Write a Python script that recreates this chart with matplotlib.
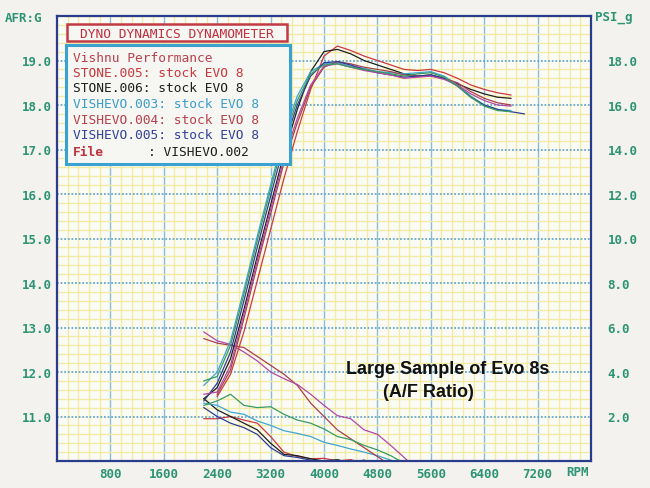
import matplotlib.pyplot as plt
from matplotlib.patches import Rectangle
from matplotlib.ticker import MultipleLocator

# boost (PSI_g, right axis) sampled every 200 rpm
boost_rpm = [2200, 2400, 2600, 2800, 3000, 3200, 3400, 3600, 3800, 4000,
             4200, 4400, 4600, 4800, 5000, 5200, 5400, 5600, 5800, 6000,
             6200, 6400, 6600, 6800, 7000]
psi_stone005 = [None, 2.9, 3.9, 5.8, 8.1, 10.4, 12.7, 14.8, 16.7, 18.2,
                18.65, 18.45, 18.2, 18.0, 17.8, 17.6, 17.55, 17.6, 17.45, 17.2,
                16.9, 16.7, 16.55, 16.45, None]
psi_stone006 = [2.8, 3.3, 4.6, 6.8, 9.2, 11.5, 13.8, 15.8, 17.5, 18.4,
                18.5, 18.3, 18.0, 17.8, 17.6, 17.4, 17.3, 17.35, 17.2, 16.95,
                16.7, 16.5, 16.35, 16.3, None]
psi_vishevo003 = [3.4, 4.0, 5.4, 7.7, 10.1, 12.4, 14.7, 16.4, 17.5, 17.85,
                  17.9, 17.75, 17.65, 17.5, 17.45, 17.4, 17.45, 17.5, 17.3, 16.9,
                  16.4, 16.0, 15.8, 15.75, None]
psi_vishevo004 = [None, 3.0, 4.1, 6.4, 8.8, 11.1, 13.4, 15.2, 16.8, 17.7,
                  17.95, 17.85, 17.7, 17.6, 17.5, 17.35, 17.3, 17.3, 17.2, 17.0,
                  16.6, 16.3, 16.1, 16.0, None]
psi_vishevo005 = [2.7, 3.5, 4.9, 7.2, 9.6, 11.9, 14.2, 16.0, 17.3, 17.9,
                  17.95, 17.8, 17.6, 17.45, 17.35, 17.25, 17.3, 17.35, 17.2, 16.85,
                  16.35, 16.0, 15.8, 15.7, 15.6]
psi_vishevo002 = [3.0, 3.1, 4.3, 6.6, 9.0, 11.3, 13.6, 15.4, 16.9, 17.75,
                  17.85, 17.7, 17.55, 17.45, 17.35, 17.2, 17.25, 17.3, 17.15, 16.9,
                  16.5, 16.2, 16.0, 15.95, None]
psi_extra = [3.6, 3.8, 5.2, 7.5, 9.9, 12.2, 14.5, 16.2, 17.4, 17.8,
             17.85, 17.7, 17.6, 17.5, 17.4, 17.3, 17.4, 17.45, 17.25, 16.85,
             16.35, 15.95, 15.75, 15.7, None]

# air/fuel ratio (left axis)
afr_rpm = [2200, 2400, 2600, 2800, 3000, 3200, 3400, 3600, 3800, 4000,
           4200, 4400, 4600, 4800, 5000, 5200, 5400]
afr_stone005 = [10.95, 10.95, 11.0, 10.92, 10.85, 10.55, 10.2, 10.1, 10.05, 10.06,
                10.0, 10.03, 9.95, 9.9, None, None, None]
afr_stone006 = [11.4, 11.15, 11.0, 10.85, 10.7, 10.4, 10.15, 10.12, 10.05, 10.0,
                10.03, 9.96, 10.02, 9.9, None, None, None]
afr_vishevo003 = [11.3, 11.25, 11.1, 11.05, 10.9, 10.8, 10.68, 10.62, 10.55, 10.42,
                  10.35, 10.27, 10.2, 10.12, 10.02, 9.9, None]
afr_vishevo004 = [12.75, 12.65, 12.6, 12.55, 12.35, 12.15, 11.95, 11.7, 11.3, 11.0,
                  10.7, 10.5, 10.3, 10.1, 9.9, None, None]
afr_vishevo005 = [11.2, 11.0, 10.85, 10.75, 10.6, 10.3, 10.12, 10.08, 10.02, 9.98,
                  10.0, 9.95, None, None, None, None, None]
afr_vishevo002 = [12.9, 12.7, 12.62, 12.45, 12.25, 12.0, 11.85, 11.72, 11.5, 11.25,
                  11.02, 10.95, 10.7, 10.6, 10.35, 10.08, 9.8]
afr_extra = [11.25, 11.35, 11.5, 11.25, 11.2, 11.22, 11.05, 10.92, 10.85, 10.72,
             10.55, 10.48, 10.35, 10.25, 10.12, 9.95, None]

run_colors = ['#cc3a3e', '#1e1e1e', '#3ea6d4', '#a8404e', '#2e3c94', '#b048a8', '#3a9a62']
boost_runs = [psi_stone005, psi_stone006, psi_vishevo003, psi_vishevo004,
              psi_vishevo005, psi_vishevo002, psi_extra]
afr_runs = [afr_stone005, afr_stone006, afr_vishevo003, afr_vishevo004,
            afr_vishevo005, afr_vishevo002, afr_extra]

x_ticks = [800, 1600, 2400, 3200, 4000, 4800, 5600, 6400, 7200]
afr_ticks = [11.0, 12.0, 13.0, 14.0, 15.0, 16.0, 17.0, 18.0, 19.0]
psi_ticks = [2.0, 4.0, 6.0, 8.0, 10.0, 12.0, 14.0, 16.0, 18.0]

legend_lines = [
    ('Vishnu Performance', '#b84050'),
    ('STONE.005: stock EVO 8', '#c8383c'),
    ('STONE.006: stock EVO 8', '#1e1e1e'),
    ('VISHEVO.003: stock EVO 8', '#3c9cc8'),
    ('VISHEVO.004: stock EVO 8', '#b8404c'),
    ('VISHEVO.005: stock EVO 8', '#34409a'),
]

tick_green = '#2c9474'
mono = 'DejaVu Sans Mono'

fig = plt.figure(figsize=(6.5, 4.89), dpi=100, facecolor='#f3f2ee')
ax = fig.add_axes([57 / 650, 27 / 489, 534 / 650, 445 / 489])
ax.set_facecolor('#fbfbf5')
ax.set_xlim(0, 8000)
ax.set_ylim(10, 20)

ax.xaxis.set_minor_locator(MultipleLocator(160))
ax.yaxis.set_minor_locator(MultipleLocator(0.2))
ax.set_xticks(x_ticks)
ax.set_yticks(afr_ticks)
ax.grid(which='minor', color='#f1eba6', linewidth=1.0)
ax.grid(which='major', axis='x', color='#8cbcd2', linewidth=1.0)
ax.grid(which='major', axis='y', color='#6aa8c8', linewidth=1.3, linestyle=(0, (1, 1)))
ax.set_axisbelow(True)
ax.tick_params(which='both', length=0)
ax.tick_params(axis='x', colors=tick_green, labelsize=9, pad=4)
ax.tick_params(axis='y', colors=tick_green, labelsize=9, pad=4)
ax.set_xticklabels([str(v) for v in x_ticks], family=mono, weight='bold')
ax.set_yticklabels(['%.1f' % v for v in afr_ticks], family=mono, weight='bold')
for s in ax.spines.values():
    s.set_color('#2a3c8c')
    s.set_linewidth(1.6)

for vals, c in zip(afr_runs, run_colors):
    ax.plot(afr_rpm, [float('nan') if v is None else v for v in vals], color=c, linewidth=0.9)

ax2 = ax.twinx()
ax2.set_ylim(0, 20)
ax2.set_yticks(psi_ticks)
ax2.set_yticklabels(['%.1f' % v for v in psi_ticks], family=mono, weight='bold')
ax2.tick_params(length=0, colors=tick_green, labelsize=9, pad=12)
for s in ax2.spines.values():
    s.set_visible(False)
for vals, c in zip(boost_runs, run_colors):
    ax2.plot(boost_rpm, [float('nan') if v is None else v for v in vals], color=c, linewidth=0.9)

fig.text(5 / 650, 1 - 18 / 489, 'AFR:G', color=tick_green, family=mono, weight='bold',
         fontsize=9, va='center')
fig.text(595 / 650, 1 - 18 / 489, 'PSI_g', color=tick_green, family=mono, weight='bold',
         fontsize=9, va='center')
fig.text(566 / 650, 1 - 473 / 489, 'RPM', color=tick_green, family=mono, weight='bold',
         fontsize=9, va='center')

ax.text(5860, 12.07, 'Large Sample of Evo 8s', family='Liberation Sans', weight='bold',
        fontsize=13, ha='center', va='center', color='#111111', zorder=4)
ax.text(5560, 11.57, '(A/F Ratio)', family='Liberation Sans', weight='bold',
        fontsize=13, ha='center', va='center', color='#111111', zorder=4)


def box(x0, y0, x1, y1, edge, lw):
    fig.add_artist(Rectangle((x0 / 650, 1 - y1 / 489), (x1 - x0) / 650, (y1 - y0) / 489,
                             transform=fig.transFigure, facecolor='#f6f6f2',
                             edgecolor=edge, linewidth=lw, zorder=5))


box(67, 25, 287, 42, '#c23a44', 1.8)
box(66, 46, 290, 165, '#3aa2d2', 2.2)
fig.text(177 / 650, 1 - 34 / 489, 'DYNO DYNAMICS DYNAMOMETER', color='#c03040', family=mono,
         fontsize=9.3, ha='center', va='center', zorder=6)
for i, (txt, c) in enumerate(legend_lines):
    fig.text(73 / 650, 1 - (58 + 15.5 * i) / 489, txt, color=c, family=mono,
             fontsize=9.3, va='center', zorder=6)
fig.text(73 / 650, 1 - 153 / 489, 'File', color='#c03040', family=mono, weight='bold',
         fontsize=9.3, va='center', zorder=6)
fig.text(148 / 650, 1 - 153 / 489, ': VISHEVO.002', color='#1e1e1e', family=mono,
         fontsize=9.3, va='center', zorder=6)

fig.savefig('out.png', dpi=100, facecolor=fig.get_facecolor())
